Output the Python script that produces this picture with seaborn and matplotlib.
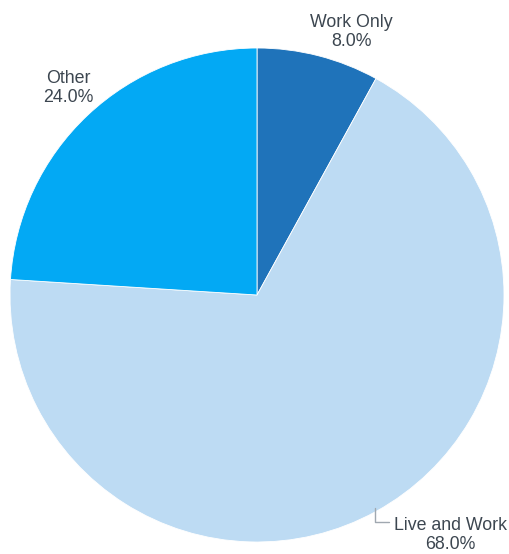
import matplotlib
matplotlib.use("Agg")
import matplotlib.pyplot as plt
import seaborn as sns

sns.set_style("white")
plt.rcParams["font.family"] = ["Liberation Sans", "DejaVu Sans"]

categories = ["Work Only", "Live and Work", "Other"]
shares = [8.0, 68.0, 24.0]
colors = ["#1f73ba", "#bddbf3", "#03a9f4"]
text_color = "#3c4650"

fig = plt.figure(figsize=(5.10, 5.54), dpi=100)
W, H = 510, 554
cx, cy, r = 257, 295, 247
ax = fig.add_axes([(cx - r) / W, (H - cy - r) / H, 2 * r / W, 2 * r / H])

ax.pie(shares, colors=colors, startangle=90, counterclock=False, radius=1,
       wedgeprops=dict(edgecolor="white", linewidth=0.6))
ax.set_xlim(-1, 1)
ax.set_ylim(-1, 1)
ax.set_aspect("equal")
ax.axis("off")

label_pos = {
    "Work Only": (0.381, 1.063, "center"),
    "Other": (-0.765, 0.838, "center"),
    "Live and Work": (0.784, -0.971, "center"),
}
for name, val in zip(categories, shares):
    x, y, ha = label_pos[name]
    ax.text(x, y, f"{name}\n{val:.1f}%", ha=ha, va="center", fontsize=12.8,
            color=text_color, linespacing=1.15, clip_on=False)

# leader line for the large slice
ax.plot([0.478, 0.478, 0.534], [-0.862, -0.919, -0.919], color="#a0a8b0",
        linewidth=1, clip_on=False)

fig.savefig("out.png", dpi=100)
